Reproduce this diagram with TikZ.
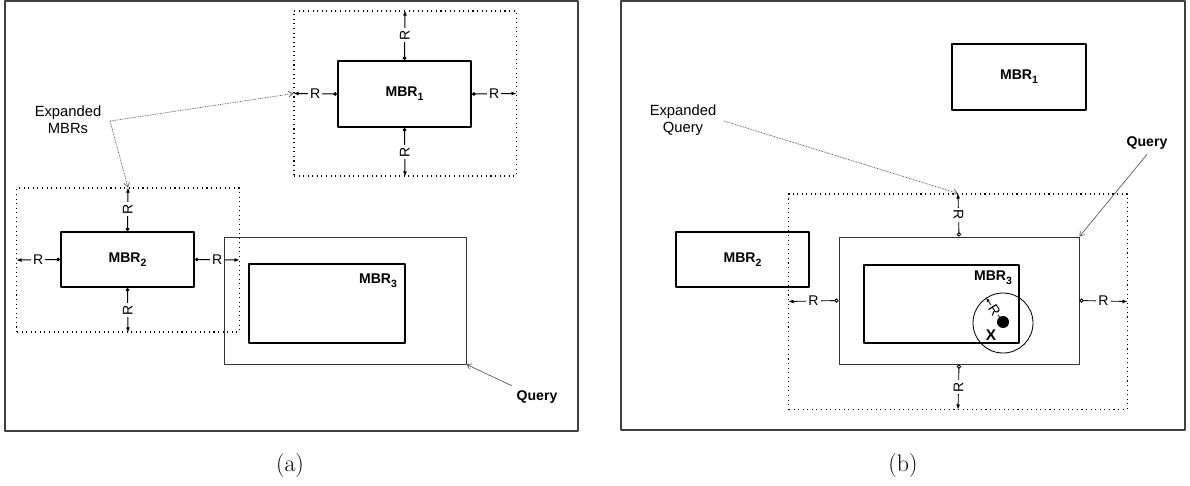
\documentclass[tikz,border=0pt]{standalone}
\usepackage{fontspec}
\newfontfamily\arial{Liberation Sans}
\usetikzlibrary{arrows.meta}
\newcommand{\mbrsub}[1]{\raisebox{-0.5ex}{\fontsize{7.5}{8}\selectfont #1}}

\tikzset{
  mbr/.style={draw,line width=1.4pt,inner sep=0pt,font=\arial\bfseries\fontsize{10}{11}\selectfont},
  qbox/.style={draw=black!80,line width=0.6pt,inner sep=0pt},
  expbox/.style={draw,line width=0.75pt,dash pattern=on 0.75pt off 2.5pt,inner sep=0pt},
  rarr/.style={line width=0.7pt,{Circle[length=2.6pt]}-{Latex[length=3.6pt,width=2.8pt]}},
  rarro/.style={line width=0.6pt,{Circle[open,length=3pt]}-{Latex[length=3.6pt,width=2.8pt]}},
  rlab/.style={fill=white,inner sep=1.5pt,font=\arial\fontsize{10}{11}\selectfont},
  lab/.style={font=\arial\fontsize{10.5}{12}\selectfont,align=center},
  blab/.style={font=\arial\bfseries\fontsize{10}{11}\selectfont},
  lead/.style={black!65,line width=0.5pt,-{Straight Barb[length=3pt,width=4pt]}},
  dlead/.style={lead,dash pattern=on 0.6pt off 0.6pt},
  frame/.style={draw=black!75,line width=0.8pt},
  capt/.style={font=\fontsize{17}{20}\selectfont}
}

\begin{document}
\begin{tikzpicture}[line join=round,x=0.025cm,y=-0.025cm]
\useasboundingbox (0,0) rectangle (1190,486);

% panel (a)
\draw[frame] (5,1) rectangle (578,431);
\node[expbox,minimum width=5.55cm,minimum height=4.125cm] (xa1) at (405,93.5) {};
\node[expbox,minimum width=5.55cm,minimum height=3.6cm] (xa2) at (128,260) {};
\node[qbox,minimum width=6.05cm,minimum height=3.175cm] (qa) at (345,300.5) {};
\node[mbr,minimum width=3.325cm,minimum height=1.65cm] (ma1) at (404.5,94) {MBR\mbrsub{1}};
\node[mbr,minimum width=3.325cm,minimum height=1.375cm] (ma2) at (127.5,259.5) {MBR\mbrsub{2}};
\node[mbr,minimum width=3.9cm,minimum height=1.975cm] (ma3) at (327,303.5) {};
\node[blab] (la3) at (378,281) {MBR\mbrsub{3}};

\draw[rarr] (ma1.north) -- node[rlab,rotate=90] {R} (xa1.north);
\draw[rarr] (ma1.south) -- node[rlab,rotate=90] {R} (xa1.south);
\draw[rarr] (ma1.west) -- node[rlab] {R} (xa1.west);
\draw[rarr] (ma1.east) -- node[rlab] {R} (xa1.east);
\draw[rarr] (ma2.north) -- node[rlab,rotate=90] {R} (xa2.north);
\draw[rarr] (ma2.south) -- node[rlab,rotate=90] {R} (xa2.south);
\draw[rarr] (ma2.west) -- node[rlab] {R} (xa2.west);
\draw[rarr] (ma2.east) -- node[rlab] {R} (xa2.east);

\node[lab] (expa) at (68,120) {Expanded\\MBRs};
\coordinate (kinka) at (110,121);
\draw[dlead] (kinka) -- (xa1.west);
\draw[dlead] (kinka) -- (xa2.north);
\node[blab] (qla) at (537,397) {Query};
\draw[lead] (qla.north west) -- (qa.south east);

% panel (b)
\draw[frame] (621,1) rectangle (1185,430);
\node[expbox,minimum width=8.45cm,minimum height=5.375cm] (xb) at (958,301.5) {};
\node[qbox,minimum width=6cm,minimum height=3.175cm] (qb) at (959,300.5) {};
\node[mbr,minimum width=3.35cm,minimum height=1.65cm] (mb1) at (1019,77) {MBR\mbrsub{1}};
\node[mbr,minimum width=3.325cm,minimum height=1.375cm] (mb2) at (742.5,259.5) {MBR\mbrsub{2}};
\node[mbr,minimum width=3.875cm,minimum height=1.95cm] (mb3) at (941.5,304) {};
\node[blab] (lb3) at (993,278) {MBR\mbrsub{3}};

\draw[rarro] (qb.north) -- node[rlab,rotate=-90] {R} (xb.north);
\draw[rarro] (qb.south) -- node[rlab,rotate=90] {R} (xb.south);
\draw[rarro] (qb.west) -- node[rlab] {R} (xb.west);
\draw[rarro] (qb.east) -- node[rlab] {R} (xb.east);

\node[draw,circle,line width=0.6pt,minimum size=1.5cm,inner sep=0pt] (rng) at (1003,323) {};
\node[circle,fill,minimum size=0.3cm,inner sep=0pt] (xpt) at (1003,322) {};
\node[blab,font=\arial\bfseries\fontsize{11}{12}\selectfont] (xlab) at (991,335) {X};
\draw[line width=0.5pt,-{Latex[length=3pt,width=2.4pt]}] (xpt.center) -- node[rlab,inner sep=0.5pt,rotate=-58] {R} (rng.124);

\node[lab] (expb) at (683,120) {Expanded\\Query};
\coordinate (kinkb) at (724,121);
\draw[dlead] (kinkb) -- (xb.north);
\node[blab] (qlb) at (1147,143) {Query};
\draw[lead] (qlb.south) -- (qb.north east);

% captions
\node[capt] (capa) at (290,466) {(a)};
\node[capt] (capb) at (903,466) {(b)};
\end{tikzpicture}
\end{document}
